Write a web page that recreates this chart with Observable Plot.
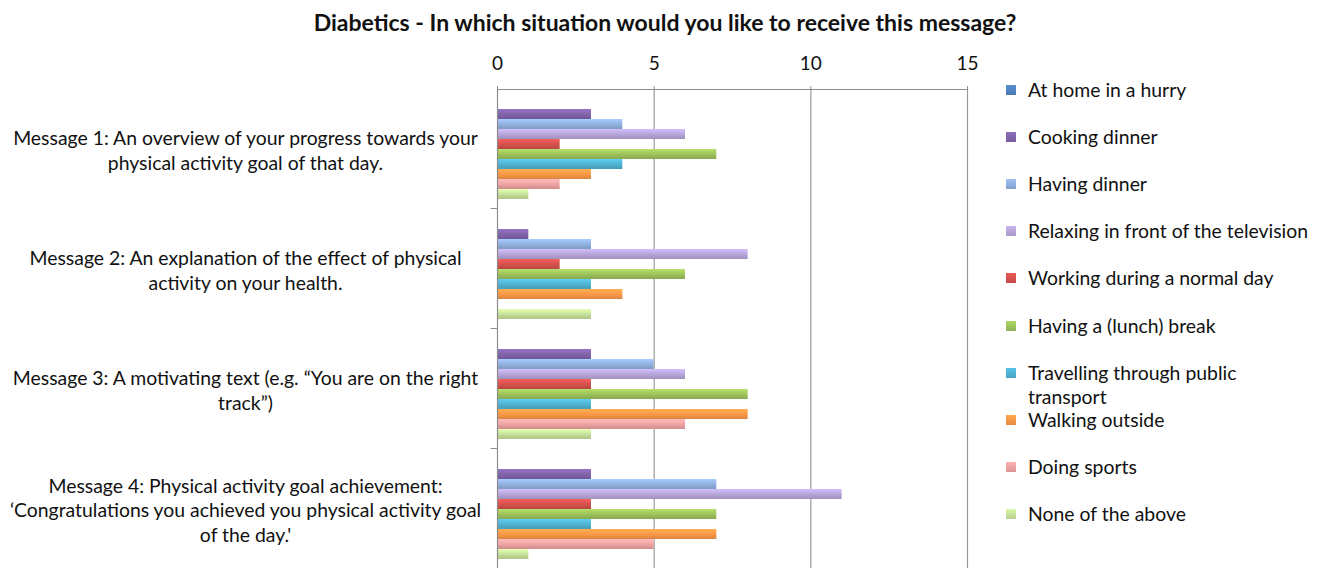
<!DOCTYPE html>
<html>
<head>
<meta charset="utf-8">
<script src="https://cdn.jsdelivr.net/npm/d3@7"></script>
<script src="https://cdn.jsdelivr.net/npm/@observablehq/plot@0.6"></script>
<style>
  body { margin: 0; background: #fff; overflow: hidden; font-family: Lato, "Open Sans", sans-serif; color: #000; }
  #wrap { position: relative; width: 1322px; height: 568px; overflow: hidden; }
  #title { position: absolute; left: 0; width: 1330px; top: 7px; text-align: center; font-weight: bold; font-size: 23px; line-height: 30px; color: #111; }
  #chart { position: absolute; left: 0; top: 0; }
  #legend { position: absolute; left: 1006px; top: 0; }
  .item { position: absolute; left: 0; white-space: nowrap; font-size: 19.4px; line-height: 24px; color: #111; }
  .sw { position: absolute; left: 0; top: 7px; width: 10px; height: 10px; }
  .lab { position: absolute; left: 22px; top: 0; }
</style>
</head>
<body>
<div id="wrap">
  <svg width="0" height="0" style="position:absolute"><defs id="grads"></defs></svg>
  <div id="chart"></div>
  <div id="title">Diabetics - In which situation would you like to receive this message?</div>
  <div id="legend"></div>
</div>
<script>
// ---- data ----
const messages = ["Message 1", "Message 2", "Message 3", "Message 4"];
const messageLabels = [
  "Message 1: An overview of your progress towards your\nphysical activity goal of that day.",
  "Message 2: An explanation of the effect of physical\nactivity on your health.",
  "Message 3: A motivating text (e.g. \u201CYou are on the right\ntrack\u201D)",
  "Message 4: Physical activity goal achievement:\n\u2018Congratulations you achieved you physical activity goal\nof the day.'"
];
const situations = [
  "At home in a hurry",
  "Cooking dinner",
  "Having dinner",
  "Relaxing in front of the television",
  "Working during a normal day",
  "Having a (lunch) break",
  "Travelling through public transport",
  "Walking outside",
  "Doing sports",
  "None of the above"
];
const legendLabels = [
  "At home in a hurry",
  "Cooking dinner",
  "Having dinner",
  "Relaxing in front of the television",
  "Working during a normal day",
  "Having a (lunch) break",
  "Travelling through public<br>transport",
  "Walking outside",
  "Doing sports",
  "None of the above"
];
const message1 = [0, 3, 4, 6, 2, 7, 4, 3, 2, 1];
const message2 = [0, 1, 3, 8, 2, 6, 3, 4, 0, 3];
const message3 = [0, 3, 5, 6, 3, 8, 3, 8, 6, 3];
const message4 = [0, 3, 7, 11, 3, 7, 3, 7, 5, 1];
const xTicks = [0, 5, 10, 15];
const colors = ["#4F81BD", "#7F62A8", "#8FAEDC", "#B4A3D6", "#D2504C", "#9BC05A", "#4FB0CF", "#F79646", "#EBA0A0", "#C4DE98"];

// ---- build ----
const seriesValues = [message1, message2, message3, message4];
const rows = messages.flatMap((m, i) => situations.map((s, j) => ({message: m, situation: s, value: seriesValues[i][j]})));

// vertical gradients for an Excel-like bevel look
const defs = d3.select("#grads");
colors.forEach((c, i) => {
  const g = defs.append("linearGradient").attr("id", "g" + i).attr("x1", 0).attr("y1", 0).attr("x2", 0).attr("y2", 1);
  g.append("stop").attr("offset", "0%").attr("stop-color", d3.color(c).brighter(0.45).formatHex());
  g.append("stop").attr("offset", "45%").attr("stop-color", d3.color(c).brighter(0.1).formatHex());
  g.append("stop").attr("offset", "100%").attr("stop-color", d3.color(c).darker(0.35).formatHex());
});
const fills = colors.map((c, i) => `url(#g${i})`);

const chart = Plot.plot({
  width: 1322,
  height: 569,
  marginLeft: 497,
  marginRight: 355,
  marginTop: 89,
  marginBottom: 0,
  style: {fontFamily: "Lato, 'Open Sans', sans-serif", fontSize: "19px", color: "#000", background: "transparent", overflow: "visible"},
  x: {domain: [0, 15], axis: null},
  y: {domain: situations, axis: null, paddingInner: 0.05, paddingOuter: 0.74},
  fy: {domain: messages, axis: null, padding: 0},
  color: {domain: situations, range: fills},
  marks: [
    Plot.ruleX(xTicks.slice(1), {stroke: "#9a9a9a", strokeWidth: 1.2}),
    Plot.axisX({anchor: "top", ticks: xTicks, tickSize: 4, tickPadding: 16, label: null, stroke: "#8c8c8c", fill: "#111", fontSize: 19}),
    Plot.rect([messages[0]], {fy: d => d, x1: 0, x2: 15, insetBottom: 119, fill: "#8c8c8c"}),
    Plot.barX(rows, {fy: "message", y: "situation", x: "value", fill: "situation", style: "filter: drop-shadow(1px 1.5px 1px rgba(0,0,0,0.18))"}),
    Plot.ruleX([0], {stroke: "#8c8c8c", strokeWidth: 1.2}),
    Plot.rect(messages, {fy: d => d, x1: -0.2, x2: 0, insetTop: 119, fill: "#8c8c8c"}),
    Plot.text(messages, {fy: d => d, text: (d, i) => messageLabels[i], frameAnchor: "left", dx: -252, textAnchor: "middle", lineHeight: 1.28, fontSize: 19.4, fill: "#111"})
  ]
});
document.getElementById("chart").appendChild(chart);

// legend
const legend = d3.select("#legend");
situations.forEach((s, i) => {
  const it = legend.append("div").attr("class", "item").style("top", (78 + i * 47.1) + "px");
  it.append("div").attr("class", "sw").style("background", `linear-gradient(${d3.color(colors[i]).brighter(0.3)}, ${d3.color(colors[i]).darker(0.2)})`);
  it.append("div").attr("class", "lab").html(legendLabels[i]);
});
</script>
</body>
</html>
